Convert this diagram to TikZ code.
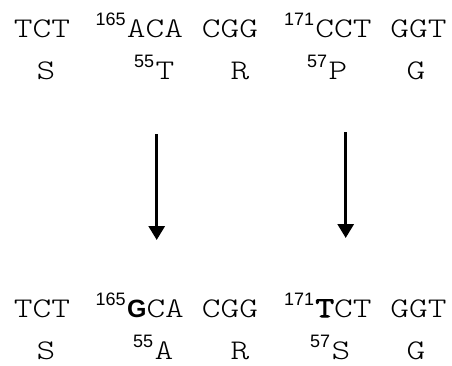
\documentclass[tikz,border=0pt]{standalone}
\usepackage{fontspec}
\newfontfamily\seqfont{Latin Modern Mono Light}[FakeStretch=1.25,BoldFont={*},BoldFeatures={FakeBold=4}]
\newfontfamily\supfont{Liberation Sans}
\usetikzlibrary{arrows.meta}
\tikzset{
  codon/.style={font=\seqfont\fontsize{28.5}{28.5}\selectfont,inner sep=0pt,anchor=base},
  sup/.style={font=\supfont\fontsize{18}{18}\selectfont,inner sep=0pt,anchor=base east,xshift=-1pt,yshift=12pt},
  mut/.style={line width=3pt,-{Triangle[width=16pt,length=14pt]}}
}
\newcommand{\boldG}{{\supfont\bfseries\fontsize{25}{25}\selectfont G}}
\begin{document}
\begin{tikzpicture}[x=1pt,y=-1pt]
\useasboundingbox (0,0) rectangle (452,365);
% wild type
\foreach \x/\t/\n in {42/TCT/1,155/ACA/2,230/CGG/3,343.5/CCT/4,418.5/GGT/5}
{
\node[codon] (wc\n) at (\x,37) {\t};
}
\node[sup] (wn2) at (wc2.base west) {165};
\node[sup] (wn4) at (wc4.base west) {171};
\foreach \x/\t/\n in {46/S/1,165/T/2,240/R/3,338/P/4,416/G/5}
{
\node[codon] (wa\n) at (\x,79) {\t};
}
\node[sup] (wm2) at (wa2.base west) {55};
\node[sup] (wm4) at (wa4.base west) {57};
% mutant
\node[codon] (mc1) at (42,317) {TCT};
\node[codon] (mc2) at (155.5,317) {\boldG CA};
\node[codon] (mc3) at (230,317) {CGG};
\node[codon] (mc4) at (343.5,317) {\textbf{T}CT};
\node[codon] (mc5) at (418.5,317) {GGT};
\node[sup] (mn2) at (mc2.base west) {165};
\node[sup] (mn4) at (mc4.base west) {171};
\foreach \x/\t/\n in {46/S/1,164/A/2,240/R/3,341/S/4,416/G/5}
{
\node[codon] (ma\n) at (\x,359) {\t};
}
\node[sup] (mm2) at (ma2.base west) {55};
\node[sup] (mm4) at (ma4.base west) {57};
% arrows
\coordinate (f1) at (156.7,134);
\coordinate (t1) at (156.7,240);
\coordinate (f2) at (345.7,132);
\coordinate (t2) at (345.7,238);
\draw[mut] (f1) -- (t1);
\draw[mut] (f2) -- (t2);
\end{tikzpicture}
\end{document}
